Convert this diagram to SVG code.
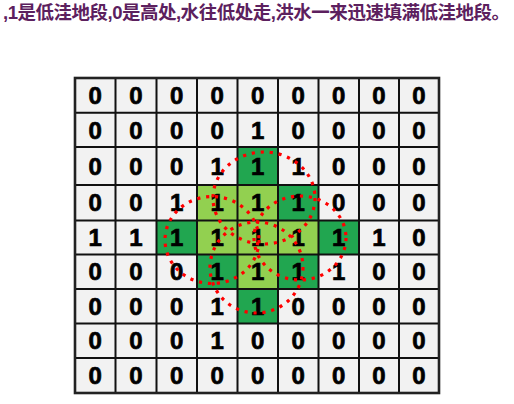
<svg xmlns="http://www.w3.org/2000/svg" width="514" height="404" viewBox="0 0 514 404">
<style>
.title{font-family:"Liberation Sans","Noto Sans CJK SC",sans-serif;font-weight:bold;font-size:18.5px;fill:#5c205e}
.d{font-family:"Liberation Sans",Arial,sans-serif;font-weight:bold;font-size:24px;fill:#000;stroke:#000;stroke-width:0.7;text-anchor:middle}
.dk{fill:#21a650}
.lt{fill:#92d050}
.grid{fill:none;stroke:#111;stroke-width:2}
.ring{fill:none;stroke:#f00;stroke-width:3.2;stroke-dasharray:3.2 5.8}
</style>
<rect width="514" height="404" fill="#fff"/>
<text class="title" x="3" y="19" textLength="507" lengthAdjust="spacing">,1是低洼地段,0是高处,水往低处走,洪水一来迅速填满低洼地段。</text>
<g id="grid-cells">
<rect x="75" y="78" width="364" height="315" fill="#f2f2f2"/>
<rect class="dk" x="237.5" y="147" width="40.5" height="38"/>
<rect class="dk" x="278" y="185" width="40.5" height="35.5"/>
<rect class="dk" x="156.5" y="220.5" width="40.5" height="34"/>
<rect class="dk" x="318.5" y="220.5" width="40.5" height="34"/>
<rect class="dk" x="197" y="254.5" width="40.5" height="34.5"/>
<rect class="dk" x="278" y="254.5" width="40.5" height="34.5"/>
<rect class="dk" x="237.5" y="289" width="40.5" height="34.5"/>
<rect class="lt" x="197" y="185" width="40.5" height="35.5"/>
<rect class="lt" x="237.5" y="185" width="40.5" height="35.5"/>
<rect class="lt" x="197" y="220.5" width="40.5" height="34"/>
<rect class="lt" x="237.5" y="220.5" width="40.5" height="34"/>
<rect class="lt" x="278" y="220.5" width="40.5" height="34"/>
<rect class="lt" x="237.5" y="254.5" width="40.5" height="34.5"/>
</g>
<g id="grid-lines">
<path class="grid" d="M115.5 78V393M156.5 78V393M197 78V393M237.5 78V393M278 78V393M318.5 78V393M359 78V393M399 78V393M75 112.7H439M75 147H439M75 185H439M75 220.5H439M75 254.5H439M75 289H439M75 323.5H439M75 358H439"/>
<rect x="75" y="78" width="364" height="315" fill="none" stroke="#222" stroke-width="2.6"/>
</g>
<g id="digits">
<text class="d" x="95.3" y="104" textLength="18">0</text><text class="d" x="136" y="104" textLength="18">0</text><text class="d" x="176.8" y="104" textLength="18">0</text><text class="d" x="217.3" y="104" textLength="18">0</text><text class="d" x="257.8" y="104" textLength="18">0</text><text class="d" x="298.3" y="104" textLength="18">0</text><text class="d" x="338.8" y="104" textLength="18">0</text><text class="d" x="379" y="104" textLength="18">0</text><text class="d" x="419" y="104" textLength="18">0</text>
<text class="d" x="95.3" y="138.5" textLength="18">0</text><text class="d" x="136" y="138.5" textLength="18">0</text><text class="d" x="176.8" y="138.5" textLength="18">0</text><text class="d" x="217.3" y="138.5" textLength="18">0</text><text class="d" x="257.8" y="138.5" textLength="18">1</text><text class="d" x="298.3" y="138.5" textLength="18">0</text><text class="d" x="338.8" y="138.5" textLength="18">0</text><text class="d" x="379" y="138.5" textLength="18">0</text><text class="d" x="419" y="138.5" textLength="18">0</text>
<text class="d" x="95.3" y="174.5" textLength="18">0</text><text class="d" x="136" y="174.5" textLength="18">0</text><text class="d" x="176.8" y="174.5" textLength="18">0</text><text class="d" x="217.3" y="174.5" textLength="18">1</text><text class="d" x="257.8" y="174.5" textLength="18">1</text><text class="d" x="298.3" y="174.5" textLength="18">1</text><text class="d" x="338.8" y="174.5" textLength="18">0</text><text class="d" x="379" y="174.5" textLength="18">0</text><text class="d" x="419" y="174.5" textLength="18">0</text>
<text class="d" x="95.3" y="211" textLength="18">0</text><text class="d" x="136" y="211" textLength="18">0</text><text class="d" x="176.8" y="211" textLength="18">1</text><text class="d" x="217.3" y="211" textLength="18">1</text><text class="d" x="257.8" y="211" textLength="18">1</text><text class="d" x="298.3" y="211" textLength="18">1</text><text class="d" x="338.8" y="211" textLength="18">0</text><text class="d" x="379" y="211" textLength="18">0</text><text class="d" x="419" y="211" textLength="18">0</text>
<text class="d" x="95.3" y="246" textLength="18">1</text><text class="d" x="136" y="246" textLength="18">1</text><text class="d" x="176.8" y="246" textLength="18">1</text><text class="d" x="217.3" y="246" textLength="18">1</text><text class="d" x="257.8" y="246" textLength="18">1</text><text class="d" x="298.3" y="246" textLength="18">1</text><text class="d" x="338.8" y="246" textLength="18">1</text><text class="d" x="379" y="246" textLength="18">1</text><text class="d" x="419" y="246" textLength="18">0</text>
<text class="d" x="95.3" y="280" textLength="18">0</text><text class="d" x="136" y="280" textLength="18">0</text><text class="d" x="176.8" y="280" textLength="18">0</text><text class="d" x="217.3" y="280" textLength="18">1</text><text class="d" x="257.8" y="280" textLength="18">1</text><text class="d" x="298.3" y="280" textLength="18">1</text><text class="d" x="338.8" y="280" textLength="18">1</text><text class="d" x="379" y="280" textLength="18">0</text><text class="d" x="419" y="280" textLength="18">0</text>
<text class="d" x="95.3" y="315" textLength="18">0</text><text class="d" x="136" y="315" textLength="18">0</text><text class="d" x="176.8" y="315" textLength="18">0</text><text class="d" x="217.3" y="315" textLength="18">1</text><text class="d" x="257.8" y="315" textLength="18">1</text><text class="d" x="298.3" y="315" textLength="18">0</text><text class="d" x="338.8" y="315" textLength="18">0</text><text class="d" x="379" y="315" textLength="18">0</text><text class="d" x="419" y="315" textLength="18">0</text>
<text class="d" x="95.3" y="349" textLength="18">0</text><text class="d" x="136" y="349" textLength="18">0</text><text class="d" x="176.8" y="349" textLength="18">0</text><text class="d" x="217.3" y="349" textLength="18">1</text><text class="d" x="257.8" y="349" textLength="18">0</text><text class="d" x="298.3" y="349" textLength="18">0</text><text class="d" x="338.8" y="349" textLength="18">0</text><text class="d" x="379" y="349" textLength="18">0</text><text class="d" x="419" y="349" textLength="18">0</text>
<text class="d" x="95.3" y="384" textLength="18">0</text><text class="d" x="136" y="384" textLength="18">0</text><text class="d" x="176.8" y="384" textLength="18">0</text><text class="d" x="217.3" y="384" textLength="18">0</text><text class="d" x="257.8" y="384" textLength="18">0</text><text class="d" x="298.3" y="384" textLength="18">0</text><text class="d" x="338.8" y="384" textLength="18">0</text><text class="d" x="379" y="384" textLength="18">0</text><text class="d" x="419" y="384" textLength="18">0</text>
</g>
<g id="rings">
<ellipse class="ring" cx="264" cy="198" rx="51" ry="46"/>
<ellipse class="ring" cx="212" cy="240" rx="47" ry="43.5"/>
<ellipse class="ring" cx="300" cy="238" rx="46" ry="42"/>
<ellipse class="ring" cx="256.5" cy="267.5" rx="46.5" ry="45.5"/>
</g>
</svg>
